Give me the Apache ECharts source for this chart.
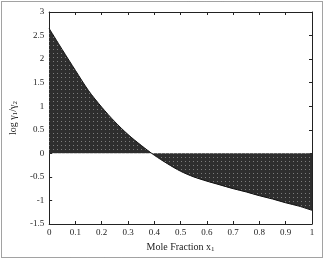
<!DOCTYPE html>
<html>

<head>
	<meta charset="UTF-8">
	<title></title>
	<style>
		body {
			margin: 0;
		}

		#chart1 {
			width: 324px;
			height: 259px;
		}
	</style>
	<script src="https://cdn.jsdelivr.net/npm/echarts@6/dist/echarts.min.js"></script>
</head>

<body>
	<div id="chart1"></div>
	<script>
		// mole fraction x1 and log(gamma1/gamma2)
		var moleFraction = [0, 0.05, 0.1, 0.15, 0.2, 0.25, 0.3, 0.35, 0.4, 0.45, 0.5,
			0.55, 0.6, 0.65, 0.7, 0.75, 0.8, 0.85, 0.9, 0.95, 1];
		var logRatio = [2.65, 2.2, 1.76, 1.33, 0.98, 0.67, 0.4, 0.17, -0.04, -0.22, -0.38,
			-0.5, -0.59, -0.67, -0.75, -0.82, -0.9, -0.97, -1.05, -1.12, -1.21];
		var yTicks = { min: -1.5, max: 3, step: 0.5 };
		var xTicks = { min: 0, max: 1, step: 0.1 };

		var seriesData = moleFraction.map(function (x, i) {
			return [x, logRatio[i]];
		});

		// dark fill with a light dot grid
		var pat = document.createElement('canvas');
		pat.width = 4;
		pat.height = 4;
		var ctx = pat.getContext('2d');
		ctx.fillStyle = '#2e2e2e';
		ctx.fillRect(0, 0, 4, 4);
		ctx.fillStyle = '#7c7c7c';
		ctx.fillRect(1, 1, 1, 1);

		var font = 'Liberation Serif';
		var axisCol = '#222';

		var sub = {
			n: { fontFamily: font, fontSize: 10, color: '#222' },
			s: { fontFamily: font, fontSize: 7, color: '#222', padding: [5, 0, 0, 0] }
		};

		var myChart = echarts.init(document.getElementById('chart1'));
		myChart.setOption({
			animation: false,
			backgroundColor: '#fff',
			grid: { left: 43, right: 12, top: 12, bottom: 35 },
			graphic: [{
				type: 'rect',
				shape: { x: 1.5, y: 1.5, width: 321, height: 256 },
				style: { fill: null, stroke: '#444', lineWidth: 1, lineDash: [1, 1] },
				silent: true
			}],
			xAxis: [{
				type: 'value',
				min: xTicks.min,
				max: xTicks.max,
				interval: xTicks.step,
				name: '{n|Mole Fraction x}{s|1}',
				nameLocation: 'middle',
				nameGap: 17,
				nameTextStyle: { rich: sub },
				axisLine: { onZero: false, lineStyle: { color: axisCol, width: 1 } },
				axisTick: { inside: true, length: 3, lineStyle: { color: axisCol } },
				axisLabel: { fontFamily: font, fontSize: 9, color: '#222', margin: 4 },
				splitLine: { show: false }
			}, {
				type: 'value',
				position: 'top',
				min: xTicks.min,
				max: xTicks.max,
				interval: xTicks.step,
				axisLine: { onZero: false, lineStyle: { color: axisCol, width: 1 } },
				axisTick: { inside: true, length: 3, lineStyle: { color: axisCol } },
				axisLabel: { show: false },
				splitLine: { show: false }
			}],
			yAxis: [{
				type: 'value',
				min: yTicks.min,
				max: yTicks.max,
				interval: yTicks.step,
				name: '{n|log \u03b3}{s|1}{n|/\u03b3}{s|2}',
				nameLocation: 'middle',
				nameRotate: 90,
				nameGap: 25,
				nameTextStyle: { rich: sub },
				axisLine: { show: true, onZero: false, lineStyle: { color: axisCol, width: 1 } },
				axisTick: { show: true, inside: true, length: 3, lineStyle: { color: axisCol } },
				axisLabel: { fontFamily: font, fontSize: 9, color: '#222', margin: 5 },
				splitLine: { show: false }
			}, {
				type: 'value',
				position: 'right',
				min: yTicks.min,
				max: yTicks.max,
				interval: yTicks.step,
				axisLine: { show: true, onZero: false, lineStyle: { color: axisCol, width: 1 } },
				axisTick: { show: true, inside: true, length: 3, lineStyle: { color: axisCol } },
				axisLabel: { show: false },
				splitLine: { show: false }
			}],
			series: [{
				type: 'line',
				data: seriesData,
				smooth: 0.3,
				showSymbol: false,
				lineStyle: { color: '#111', width: 1 },
				areaStyle: {
					origin: 0,
					opacity: 1,
					color: { image: pat, repeat: 'repeat' }
				}
			}]
		});
	</script>
</body>

</html>
